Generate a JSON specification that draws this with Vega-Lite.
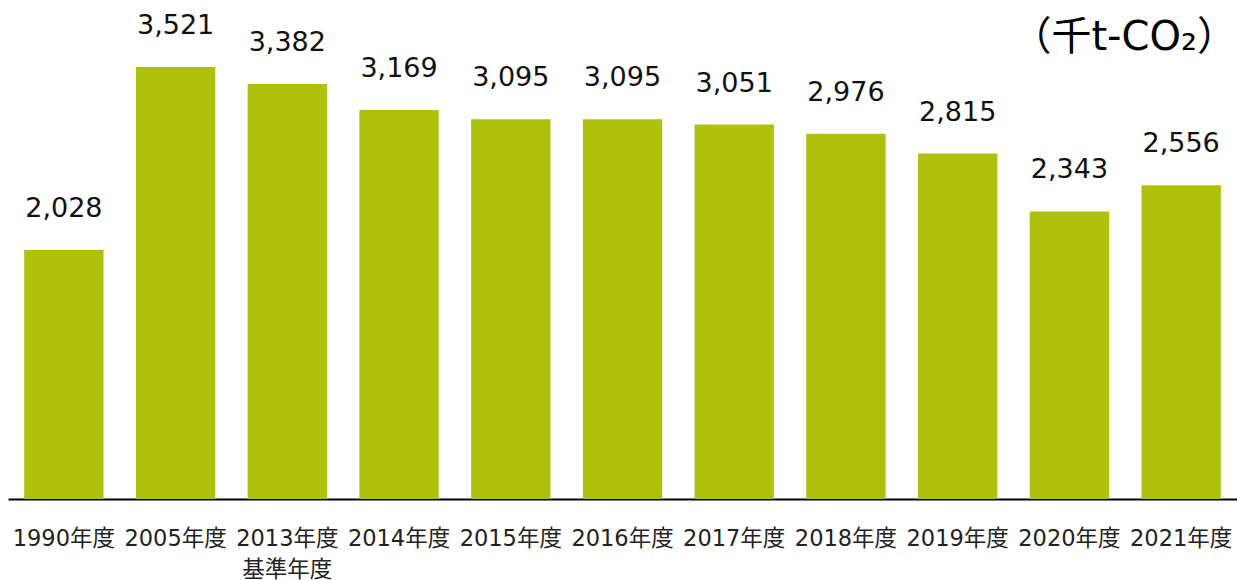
{
  "$schema": "https://vega.github.io/schema/vega-lite/v6.json",
  "autosize": {"type": "none"},
  "padding": {"left": 8, "top": 0, "right": 0, "bottom": 81},
  "width": 1229,
  "height": 499,
  "background": "white",
  "title": {"text": "（千t-CO₂）", "anchor": "end", "orient": "top", "offset": -58, "fontSize": 40, "fontWeight": "normal", "color": "#000000", "font": "DejaVu Sans, Noto Sans CJK JP"},
  "data": {"values": [
    {"year": "1990年度", "value": 2028},
    {"year": "2005年度", "value": 3521},
    {"year": "2013年度", "value": 3382},
    {"year": "2014年度", "value": 3169},
    {"year": "2015年度", "value": 3095},
    {"year": "2016年度", "value": 3095},
    {"year": "2017年度", "value": 3051},
    {"year": "2018年度", "value": 2976},
    {"year": "2019年度", "value": 2815},
    {"year": "2020年度", "value": 2343},
    {"year": "2021年度", "value": 2556}
  ]},
  "encoding": {
    "x": {"field": "year", "type": "nominal", "sort": null,
      "scale": {"paddingInner": 0.29, "paddingOuter": 0.145},
      "axis": {"title": null, "labelAngle": 0, "ticks": false, "domainColor": "#000000", "domainWidth": 2,
        "labelFont": "DejaVu Sans, Noto Sans CJK JP", "labelFontSize": 22.5, "labelColor": "#222222",
        "labelBaseline": "top", "labelPadding": 28, "labelLineHeight": 31,
        "labelExpr": "datum.value == '2013年度' ? ['2013年度', '基準年度'] : datum.value"}},
    "y": {"field": "value", "type": "quantitative", "scale": {"domain": [0, 4066], "nice": false}, "axis": null}
  },
  "layer": [
    {"mark": {"type": "bar", "color": "#AEC20B"}},
    {"mark": {"type": "text", "baseline": "alphabetic", "dy": -33, "fontSize": 27, "font": "DejaVu Sans", "color": "#111111"},
     "encoding": {"text": {"field": "value", "type": "quantitative", "format": ","}}}
  ],
  "config": {"view": {"stroke": null}}
}
